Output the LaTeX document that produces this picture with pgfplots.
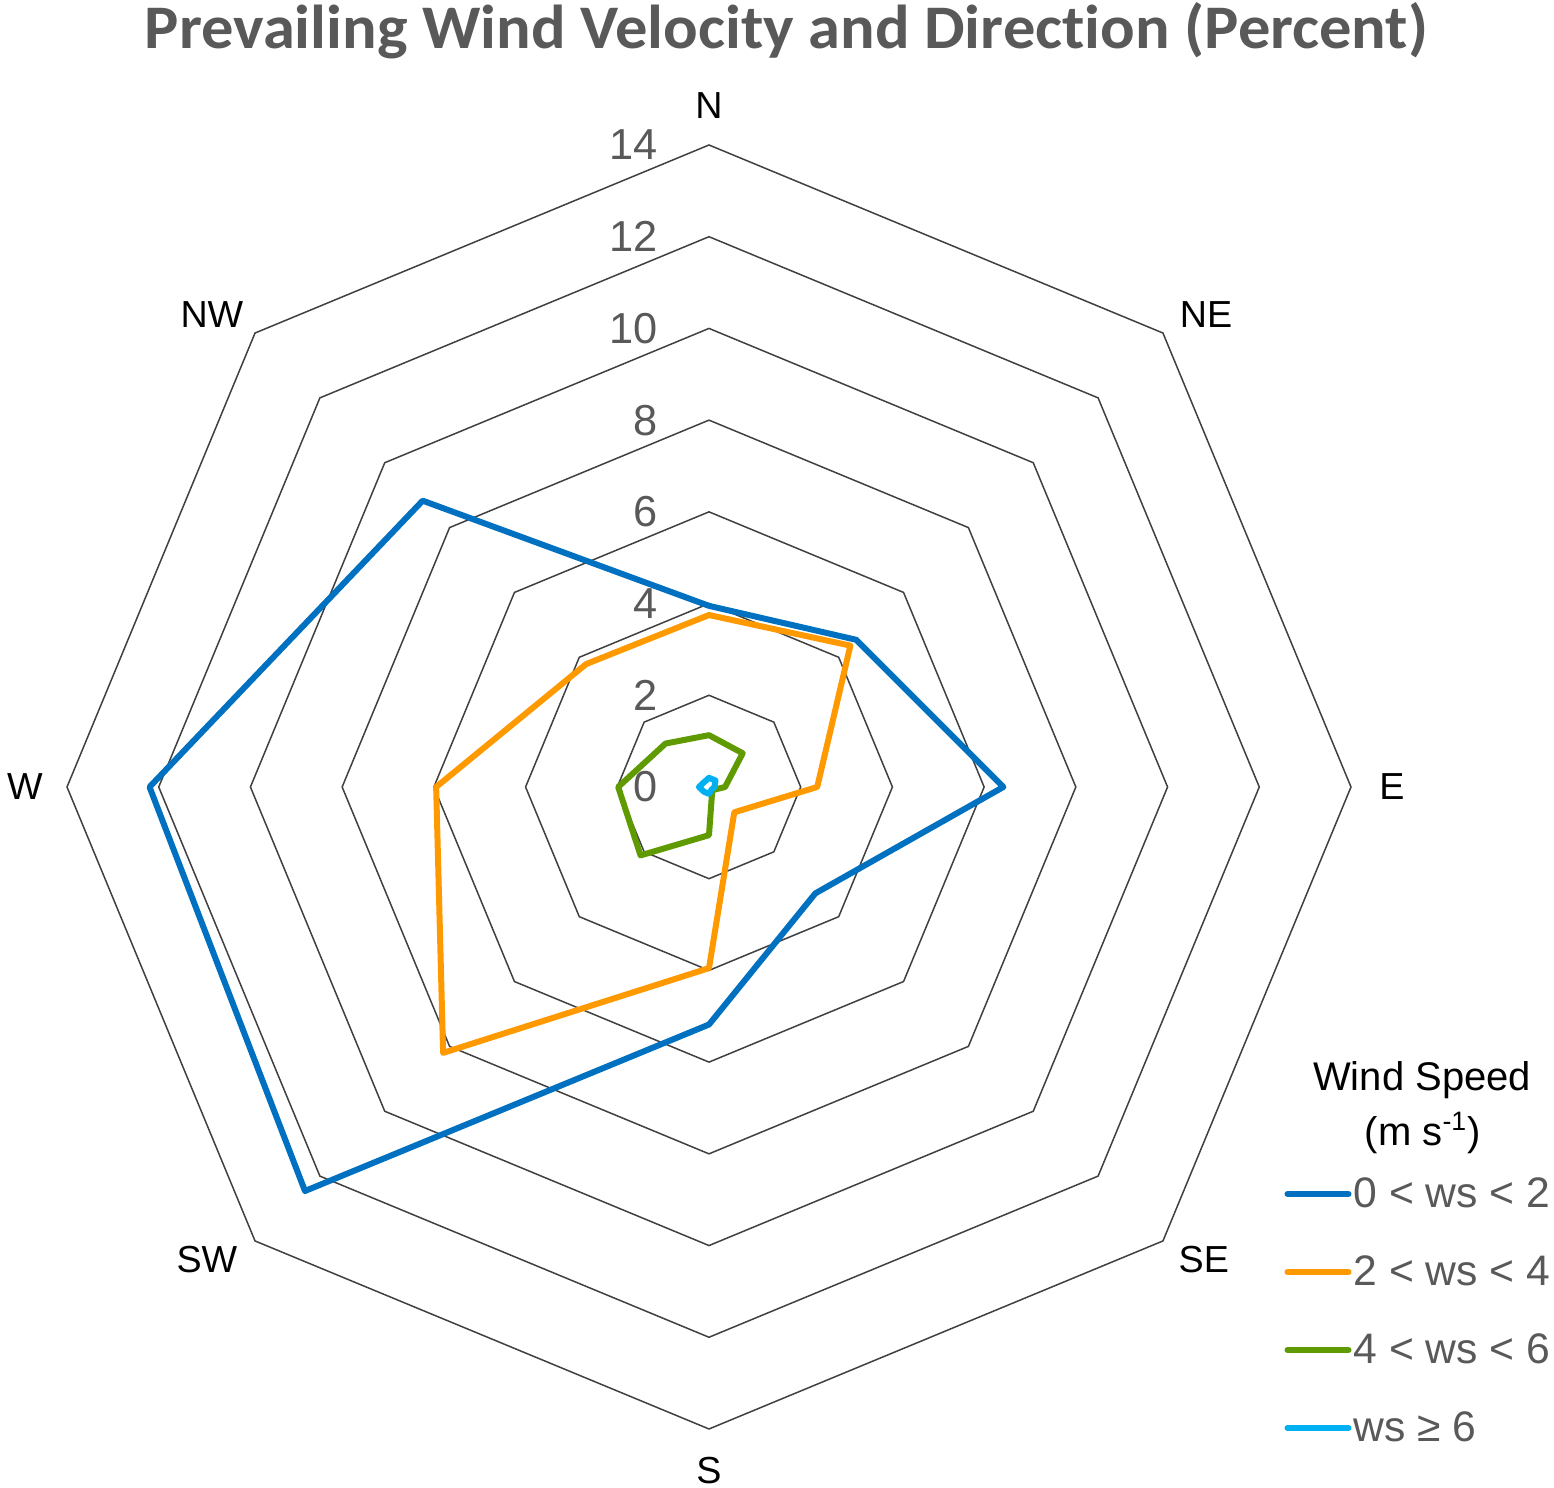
\documentclass[border=0pt]{standalone}
\usepackage{fontspec}
\setmainfont{Liberation Sans}
\newfontfamily\titlefont{Carlito}[Ligatures=NoCommon]
\usepackage{graphicx}
\usepackage{pgfplots}
\pgfplotsset{compat=1.18}
\usepackage{pgfplotstable}

\definecolor{cblue}{HTML}{0070C0}
\definecolor{corange}{HTML}{FF9900}
\definecolor{cgreen}{HTML}{5E9A00}
\definecolor{clblue}{HTML}{00B0F0}
\definecolor{cgrid}{HTML}{404040}
\definecolor{ctext}{HTML}{595959}

% angle (deg, N=90) and percent
\pgfplotstableread{
ang r
90   3.95
45   4.54
0    6.42
-45  3.28
-90  5.18
-135 12.46
180  12.20
135  8.83
90   3.95
}\bluedata
\pgfplotstableread{
ang r
90   3.75
45   4.36
0    2.36
-45  0.78
-90  3.95
-135 8.20
180  5.95
135  3.79
90   3.75
}\orangedata
\pgfplotstableread{
ang r
90   1.13
45   1.04
0    0.35
-45  0.10
-90  1.05
-135 2.11
180  1.98
135  1.34
90   1.13
}\greendata
\pgfplotstableread{
ang r
90   0.20
45   0.20
0    0.12
-45  0.08
-90  0.15
-135 0.15
180  0.22
135  0.15
90   0.20
}\lbluedata

\begin{document}
\begin{tikzpicture}
\path[use as bounding box] (-20.1pt,-17.7pt) rectangle (446.1pt,428.7pt);
\begin{axis}[
  at={(0pt,0pt)}, anchor=south west,
  scale only axis, width=385.2pt, height=385.2pt,
  xmin=-14, xmax=14, ymin=-14, ymax=14,
  hide axis, clip=false,
  legend style={at={(axis cs:12.55,-8.52)}, anchor=north west, draw=none, fill=none,
    inner sep=0pt, outer sep=0pt, row sep=14.4pt,
    nodes={inner sep=0pt, text height=9pt, text depth=0pt, text=ctext, font=\fontsize{12.8}{14}\selectfont},
    legend cell align=left, column sep=0.6pt},
  legend image code/.code={\draw[#1, line width=1.8pt, line cap=round] (0pt,-0.4pt) -- (18.3pt,-0.4pt);},
]
% grid octagons
\pgfplotsinvokeforeach{2,4,6,8,10,12,14}{
  \addplot[cgrid, line width=0.45pt, data cs=polar, forget plot, line join=miter]
    coordinates {(90,#1) (45,#1) (0,#1) (-45,#1) (-90,#1) (-135,#1) (180,#1) (135,#1) (90,#1) (45,#1)};
}
\addplot[cblue, line width=1.8pt, line join=round, line cap=round, data cs=polar] table[x=ang, y=r] {\bluedata};
\addlegendentry{0 < ws < 2}
\addplot[corange, line width=1.8pt, line join=round, line cap=round, data cs=polar] table[x=ang, y=r] {\orangedata};
\addlegendentry{2 < ws < 4}
\addplot[cgreen, line width=1.8pt, line join=round, line cap=round, data cs=polar] table[x=ang, y=r] {\greendata};
\addlegendentry{4 < ws < 6}
\addplot[clblue, line width=1.8pt, line join=round, line cap=round, data cs=polar] table[x=ang, y=r] {\lbluedata};
\addlegendentry{ws ≥ 6}

% radial tick labels
\pgfplotsinvokeforeach{0,2,4,6,8,10,12,14}{
  \node[anchor=east, inner sep=0pt, text=ctext, font=\fontsize{13}{15}\selectfont] at (axis cs:-1.1,#1) {#1};
}
% direction labels
\begin{scope}[every node/.style={inner sep=0pt, font=\fontsize{11.3}{13}\selectfont}]
\node at (axis cs:0,14.85) {N};
\node at (axis cs:10.84,10.3) {NE};
\node at (axis cs:14.89,0) {E};
\node at (axis cs:10.79,-10.3) {SE};
\node at (axis cs:0,-14.9) {S};
\node at (axis cs:-10.95,-10.3) {SW};
\node at (axis cs:-14.92,0) {W};
\node at (axis cs:-10.84,10.3) {NW};
\end{scope}
% legend title
\node[inner sep=0pt, font=\fontsize{12}{14}\selectfont] at (axis cs:15.55,-6.39) {Wind Speed};
\node[inner sep=0pt, font=\fontsize{12}{14}\selectfont] at (axis cs:15.57,-7.54) {(m s\textsuperscript{-1})};
% title
\node[anchor=base, inner sep=0pt, text=ctext] at (axis cs:1.69,16.11)
  {\resizebox{385pt}{\height}{\titlefont\bfseries\fontsize{18.6}{22}\selectfont Prevailing Wind Velocity and Direction (Percent)}};
\end{axis}
\end{tikzpicture}
\end{document}
